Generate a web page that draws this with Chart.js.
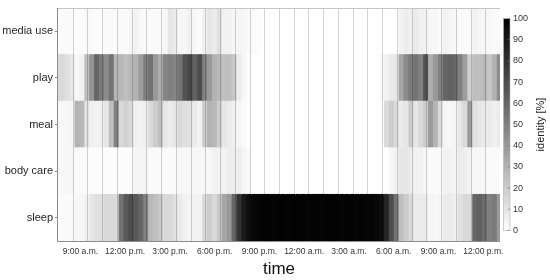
<!DOCTYPE html>
<html><head><meta charset="utf-8">
<script src="https://cdn.jsdelivr.net/npm/chart.js@4"></script>
<style>html,body{margin:0;padding:0;background:#fff}#wrap{width:550px;height:280px;position:relative}</style>
</head><body><div id="wrap"><canvas id="c"></canvas></div>
<script>
// rows of the heat map (top to bottom)
const categories = ['media use', 'play', 'meal', 'body care', 'sleep'];
// x-axis tick labels and their positions (hours after 9:00 a.m.)
const tickLabels = ['9:00 a.m.', '12:00 p.m.', '3:00 p.m.', '6:00 p.m.', '9:00 p.m.', '12:00 a.m.', '3:00 a.m.', '6:00 a.m.', '9:00 a.m.', '12:00 p.m.'];
const tickHours = [0, 3, 6, 9, 12, 15, 18, 21, 24, 27];
// colour bar ticks
const colorbarTicks = [0, 10, 20, 30, 40, 50, 60, 70, 80, 90, 100];
// identity [%] per 20-minute bin, 8:00 a.m. (day 1) to 2:00 p.m. (day 2), 90 bins
const mediaUse = [2,2,2, 1,1,2,2,1,1,2,2,1,2,2,3, 5,3, 2,2,2,2,3,
  10,8,4,3,6,3,2,6,10,8,12,5,5,3,4,3,2,2,1,
  0,0,0,0,0,0,0,0,0,0,0,0,0,0,0,0,0,0,0,0,0,0,0,0,0,0,0,0,
  5,7,6,8,6,5,3,3,2,5,4,3,2,2,2,5,4,3,3,2,2];
const play = [15,12,10,3,5,25,42,60,52,45, 55,30,28,25,28,30,38,50,55,40,
  32,48,50,48,55,68,72,62,70,50, 40,30,28,25,25,22,8,3,
  1,0,0,0,0,0,0,0,0,0,0,0,0,0,0,0,0,0,0,0,0,0,0,0,0,0,0,
  2,5,8,10,35,45,52,55,50,68,32,40,50,60,62,60,50,38,18,25,25,28,22,30,45];
const meal = [3,3,4,30,28,12,6,5,6,10, 25,50,15,18,15,6,5,6,15,20,
  25,10,8,10,15,12,12,8,5,20, 30,28,20,10,8,6,4,2,
  0,0,0,0,0,0,0,0,0,0,0,0,0,0,0,0,0,0,0,0,0,0,0,0,0,0,0,0,
  15,20,15,8,10,20,10,15,20,40,30,15,4,3,4,10,15,40,12,10,8,8,6,8];
const bodyCare = [3,3,3,2,2,2,1,1,1,1, 1,1,1,1,1,4,4,4,2,2,
  2,2,2,2,3,3,3,3,3,3, 3,5,5,5,7,7,7,4,
  2,0,0,0,0,0,0,0,0,0,0,0,0,0,0,0,0,0,0,0,0,0,0,0,0,0,0,0,0,
  3,5,10,10,8,6,5,3,2,2,2,5,5,4,8,7,5,3,3,3,2,2,2];
const sleep = [2,2,2,3,3,5,10,12,12,15, 15,15,55,65,70,65,60,50,28,25,
  22,15,15,12,8,5,4,5,5,15, 20,15,22,35,40,60,80,90,95,97,
  98,99,99,98,99,99,98,99,99,99,98,99,99,98,99,99,99,98,99,99,98,99,98,98,
  97,95,85,70,55,25,20,15,8,8,8,4,3,4,8,8,6,12,15,15,60,62,58,50,52,40];

const rows = [mediaUse, play, meal, bodyCare, sleep];
const binsPerHour = 3;
const nBins = mediaUse.length;

function grey(v) {
  const g = Math.round(255 * (1 - Math.max(0, Math.min(100, v)) / 100));
  return 'rgb(' + g + ',' + g + ',' + g + ')';
}

const datasets = [];
for (let b = 0; b < nBins; b++) {
  datasets.push({
    data: rows.map(() => [b, b + 1.35]),
    backgroundColor: rows.map(r => grey(r[b])),
    borderWidth: 0,
    barPercentage: 1.02,
    categoryPercentage: 1,
    grouped: false,
    xAxisID: 'xb',
    yAxisID: 'y'
  });
}

const FONT = '"Liberation Sans", Arial, Helvetica, sans-serif';

const decor = {
  id: 'decor',
  afterDatasetsDraw(chart) {
    const ctx = chart.ctx, a = chart.chartArea, xb = chart.scales.xb;
    ctx.save();
    ctx.beginPath();
    ctx.rect(a.left, a.top, a.right - a.left, a.bottom - a.top);
    ctx.clip();
    ctx.globalCompositeOperation = 'multiply';
    ctx.strokeStyle = '#d2d2d2';
    ctx.lineWidth = 1;
    for (let h = binsPerHour; h < nBins; h += binsPerHour) {
      const x = Math.round(xb.getPixelForValue(h)) + 0.5;
      ctx.beginPath(); ctx.moveTo(x, a.top); ctx.lineTo(x, a.bottom); ctx.stroke();
    }
    ctx.restore();
    ctx.save();
    ctx.lineWidth = 1;
    ctx.strokeStyle = '#c4c4c4';
    ctx.beginPath();
    ctx.moveTo(a.left, Math.round(a.top) + 0.5); ctx.lineTo(a.right, Math.round(a.top) + 0.5);
    ctx.stroke();
    ctx.strokeStyle = '#8c8c8c';
    ctx.beginPath();
    ctx.moveTo(Math.round(a.left) - 0.5, a.top); ctx.lineTo(Math.round(a.left) - 0.5, a.bottom + 0.5);
    ctx.lineTo(a.right, Math.round(a.bottom) + 0.5);
    ctx.stroke();
    ctx.restore();
  },
  afterDraw(chart) {
    const ctx = chart.ctx, a = chart.chartArea, yc = chart.scales.yc;
    const top = yc.getPixelForValue(100), bottom = yc.getPixelForValue(0);
    const x0 = a.right + 3.5, w = 6.5;
    ctx.save();
    const g = ctx.createLinearGradient(0, bottom, 0, top);
    g.addColorStop(0, '#ffffff');
    g.addColorStop(1, '#000000');
    ctx.fillStyle = g;
    ctx.fillRect(x0, top, w, bottom - top);
    ctx.strokeStyle = '#b0b0b0';
    ctx.lineWidth = 0.6;
    ctx.strokeRect(x0, top, w, bottom - top);
    ctx.strokeStyle = 'rgba(120,120,120,0.8)';
    ctx.lineWidth = 0.8;
    colorbarTicks.forEach(t => {
      const y = yc.getPixelForValue(t);
      ctx.beginPath(); ctx.moveTo(x0 + w - 2.5, y); ctx.lineTo(x0 + w, y); ctx.stroke();
    });
    ctx.translate(541, (top + bottom) / 2);
    ctx.rotate(-Math.PI / 2);
    ctx.fillStyle = '#222';
    ctx.font = '11px ' + FONT;
    ctx.textAlign = 'center';
    ctx.textBaseline = 'middle';
    ctx.fillText('identity [%]', 0, 0);
    ctx.restore();
  }
};

function noPadV(s) { s.paddingTop = 0; s.paddingBottom = 0; }

new Chart(document.getElementById('c'), {
  type: 'bar',
  data: { labels: categories, datasets: datasets },
  plugins: [decor],
  options: {
    indexAxis: 'y',
    responsive: true,
    maintainAspectRatio: false,
    animation: false,
    events: [],
    layout: { padding: { top: 8, left: 0, right: 22, bottom: 0 } },
    plugins: { legend: { display: false }, tooltip: { enabled: false } },
    scales: {
      xb: {
        type: 'linear', position: 'bottom', min: 0, max: nBins, display: false
      },
      x: {
        type: 'linear', position: 'bottom', min: -1.5, max: 28.12,
        afterBuildTicks: s => { s.ticks = tickHours.map(v => ({ value: v })); },
        afterFit: s => { s.height = 39; s.paddingLeft = 0; s.paddingRight = 0; },
        ticks: {
          autoSkip: false, maxRotation: 0, padding: 6,
          color: '#333', font: { family: FONT, size: 8.5 },
          callback: (v) => tickLabels[tickHours.indexOf(v)]
        },
        grid: { display: false, drawTicks: false },
        border: { display: false },
        title: { display: true, text: 'time', color: '#111', font: { family: FONT, size: 17 }, padding: { top: 2, bottom: 0 } }
      },
      y: {
        type: 'category', position: 'left', offset: true,
        afterFit: s => { s.width = 58; noPadV(s); },
        ticks: { color: '#262626', padding: 2, font: { family: FONT, size: 11 } },
        grid: { display: true, drawOnChartArea: false, drawTicks: true, tickLength: 3, offset: false, color: '#888' },
        border: { display: false }
      },
      yc: {
        type: 'linear', position: 'right', min: 0, max: 100,
        afterBuildTicks: s => { s.ticks = colorbarTicks.map(v => ({ value: v })); },
        afterFit: s => { s.width = 28; noPadV(s); },
        ticks: { color: '#333', padding: 13, font: { family: FONT, size: 9 } },
        grid: { display: false, drawTicks: false },
        border: { display: false }
      }
    }
  }
});
</script>
</body></html>
